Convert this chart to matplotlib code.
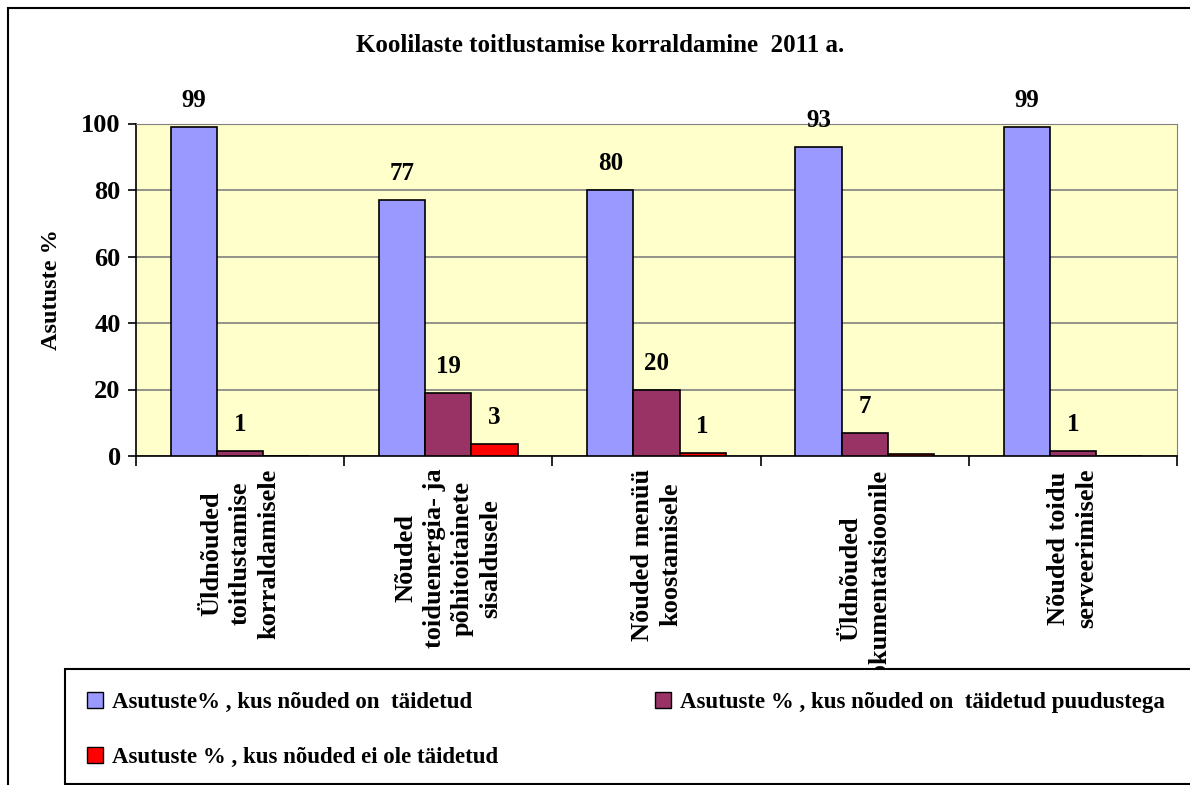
import matplotlib.pyplot as plt
import numpy as np
from matplotlib.patches import Rectangle, Patch

plt.rcParams['font.family'] = ['Liberation Serif', 'DejaVu Serif']
plt.rcParams['font.weight'] = 'bold'

categories = [
    'Üldnõuded\ntoitlustamise\nkorraldamisele',
    'Nõuded\ntoiduenergia- ja\npõhitoitainete\nsisaldusele',
    'Nõuded menüü\nkoostamisele',
    'Üldnõuded\ndokumentatsioonile',
    'Nõuded toidu\nserveerimisele',
]
taidetud = [99, 77, 80, 93, 99]
puudustega = [1.4, 19, 20, 7, 1.4]
ei_ole = [0, 3.6, 0.8, 0.6, 0]

# data labels as shown in the chart (None = no label)
lbl_taidetud = ['99', '77', '80', '93', '99']
lbl_puudustega = ['1', '19', '20', '7', '1']
lbl_ei_ole = [None, '3', '1', None, None]

series_names = [
    'Asutuste% , kus nõuded on  täidetud',
    'Asutuste % , kus nõuded on  täidetud puudustega',
    'Asutuste % , kus nõuded ei ole täidetud',
]
colors = ['#9999FF', '#993366', '#FF0000']

W, H = 1190, 785
fig = plt.figure(figsize=(W / 100, H / 100), dpi=100)

# outer chart frame (runs past the right and bottom edge)
fig.patches.append(Rectangle((7.5 / W, -0.1), 1.2, 1.1 - 8 / H, transform=fig.transFigure,
                             fill=False, edgecolor='black', linewidth=1.5, zorder=0))

ax = fig.add_axes([136 / W, 1 - 456 / H, (1177 - 136) / W, (456 - 123.5) / H])
ax.set_facecolor('#FFFFCC')

x = np.arange(len(categories))
bw = 0.222
series = [taidetud, puudustega, ei_ole]
labels = [lbl_taidetud, lbl_puudustega, lbl_ei_ole]
for i, (vals, col, lbls) in enumerate(zip(series, colors, labels)):
    pos = x + (i - 1) * bw
    ax.bar(pos, vals, bw, color=col, edgecolor='black', linewidth=1.2, zorder=3)
    for p, v, t in zip(pos, vals, lbls):
        if t is None:
            continue
        ax.annotate(t, (p, v), xytext=(0, 19), textcoords='offset points',
                    ha='center', va='center', fontsize=18, fontweight='bold')

ax.set_xlim(-0.5, len(categories) - 0.5)
ax.set_ylim(0, 100)
ax.set_yticks(np.arange(0, 101, 20))
ax.yaxis.grid(True, color='#808080', linewidth=1.2, zorder=1)
ax.tick_params(axis='y', labelsize=19, length=6, width=1.2, pad=5)

ax.set_xticks(np.arange(-0.5, len(categories)), labels=[''] * (len(categories) + 1))
ax.tick_params(axis='x', which='major', length=7, width=1.2)
ax.set_xticks(x, minor=True)
ax.set_xticklabels(categories, minor=True, rotation=90, va='top', ha='center',
                   multialignment='center', fontsize=19, fontweight='bold',
                   linespacing=1.3)
ax.tick_params(axis='x', which='minor', length=0, pad=9)

for s in ['top', 'right']:
    ax.spines[s].set_color('#808080')
ax.spines['left'].set_linewidth(1.2)
ax.spines['bottom'].set_linewidth(1.2)

ax.set_ylabel('Asutuste %', fontsize=17.5, fontweight='bold', labelpad=14)

fig.text(600 / W, 1 - 45 / H, 'Koolilaste toitlustamise korraldamine  2011 a.',
         ha='center', va='center', fontsize=18, fontweight='bold')

# legend box
fig.patches.append(Rectangle((65 / W, 1 - 784 / H), 1.0, (784 - 669) / H, transform=fig.transFigure,
                             facecolor='white', edgecolor='black', linewidth=1.5, zorder=5))
handles = [Patch(facecolor=c, edgecolor='black') for c in colors]
order = [0, 2, 1]
leg = fig.legend([handles[k] for k in order], [series_names[k] for k in order],
                 ncol=2, loc='upper left', bbox_to_anchor=(66 / W, 1 - 671 / H),
                 frameon=False, prop={'weight': 'bold', 'size': 16.5},
                 handlelength=0.7, handleheight=0.7, handletextpad=0.4,
                 columnspacing=6.85, labelspacing=1.5)
leg.set_zorder(6)

fig.savefig('out.png', dpi=100)
